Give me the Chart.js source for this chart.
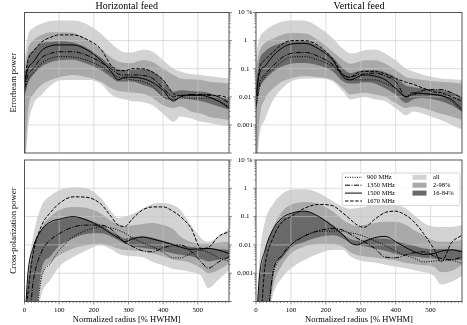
<!DOCTYPE html>
<html>
<head>
<meta charset="utf-8">
<script src="https://cdn.jsdelivr.net/npm/chart.js@4.4.1/dist/chart.umd.min.js"></script>
<style>
  body { margin: 0; background: #fff; }
  #wrap { position: relative; width: 467px; height: 325px; }
  #wrap canvas { position: absolute; left: 0; top: 0; }
</style>
</head>
<body>
<div id="wrap">
  <canvas id="ebH" width="467" height="325"></canvas>
  <canvas id="ebV" width="467" height="325"></canvas>
  <canvas id="xpH" width="467" height="325"></canvas>
  <canvas id="xpV" width="467" height="325"></canvas>
</div>
<script>
// sample radii [% HWHM], shared by every curve below
const radius = [0, 10, 25, 50, 75, 100, 140, 180, 220, 250, 270, 290, 310, 340, 370, 400, 430, 450, 480, 510, 530, 560, 590];

const yTicks = [0.0001, 0.001, 0.01, 0.1, 1, 10];
const yTickLabels = ['', '0.001', '0.01', '0.1', '1', '10 %'];
const xTicks = [0, 100, 200, 300, 400, 500];

const freqNames = ['900 MHz', '1350 MHz', '1500 MHz', '1670 MHz'];
const bandNames = ['all', '2-98%', '16-84%'];

// errorbeam power, horizontal feed
const ebH_900  = [0.015, 0.04, 0.07, 0.16, 0.23, 0.27, 0.26, 0.2, 0.12, 0.07, 0.05, 0.045, 0.04, 0.035, 0.024, 0.01, 0.008, 0.009, 0.009, 0.009, 0.009, 0.007, 0.0045];
const ebH_1350 = [0.02, 0.06, 0.1, 0.25, 0.35, 0.4, 0.4, 0.3, 0.17, 0.1, 0.065, 0.06, 0.06, 0.058, 0.045, 0.02, 0.01, 0.011, 0.012, 0.012, 0.012, 0.01, 0.006];
const ebH_1500 = [0.03, 0.1, 0.17, 0.45, 0.65, 0.7, 0.7, 0.47, 0.2, 0.08, 0.04, 0.05, 0.05, 0.045, 0.032, 0.017, 0.007, 0.01, 0.011, 0.011, 0.01, 0.007, 0.004];
const ebH_1670 = [0.03, 0.2, 0.4, 0.9, 1.3, 1.6, 1.6, 1.1, 0.5, 0.13, 0.085, 0.085, 0.1, 0.1, 0.075, 0.04, 0.013, 0.011, 0.012, 0.012, 0.011, 0.011, 0.009];
const ebH_all_lo   = [0.00001, 0.0007, 0.005, 0.012, 0.025, 0.038, 0.04, 0.04, 0.03, 0.012, 0.009, 0.008, 0.007, 0.0065, 0.005, 0.0025, 0.0013, 0.002, 0.0017, 0.0013, 0.0012, 0.001, 0.0009];
const ebH_all_hi   = [0.2, 1.5, 2.8, 4, 5, 5.2, 5.2, 3.8, 1.8, 0.8, 0.5, 0.38, 0.38, 0.47, 0.4, 0.2, 0.1, 0.08, 0.065, 0.06, 0.055, 0.05, 0.045];
const ebH_2_98_lo  = [0.00001, 0.003, 0.012, 0.027, 0.04, 0.05, 0.06, 0.05, 0.035, 0.02, 0.016, 0.015, 0.014, 0.013, 0.009, 0.005, 0.004, 0.0045, 0.003, 0.0025, 0.002, 0.0017, 0.0015];
const ebH_2_98_hi  = [0.1, 0.5, 1, 1.6, 2, 2, 1.9, 1.1, 0.5, 0.25, 0.18, 0.16, 0.16, 0.2, 0.17, 0.1, 0.06, 0.045, 0.042, 0.04, 0.035, 0.032, 0.03];
const ebH_16_84_lo = [0.01, 0.03, 0.06, 0.12, 0.17, 0.2, 0.21, 0.15, 0.09, 0.05, 0.035, 0.035, 0.035, 0.027, 0.02, 0.01, 0.0075, 0.009, 0.008, 0.007, 0.006, 0.0045, 0.0035];
const ebH_16_84_hi = [0.05, 0.25, 0.45, 0.8, 0.9, 0.95, 0.85, 0.55, 0.25, 0.13, 0.1, 0.09, 0.09, 0.1, 0.08, 0.04, 0.015, 0.017, 0.016, 0.015, 0.014, 0.01, 0.008];

// errorbeam power, vertical feed
const ebV_900  = [0.004, 0.02, 0.05, 0.1, 0.18, 0.26, 0.27, 0.2, 0.12, 0.06, 0.04, 0.04, 0.04, 0.04, 0.03, 0.02, 0.01, 0.012, 0.013, 0.012, 0.011, 0.007, 0.003];
const ebV_1350 = [0.005, 0.03, 0.06, 0.13, 0.25, 0.35, 0.38, 0.27, 0.14, 0.06, 0.05, 0.06, 0.065, 0.07, 0.055, 0.035, 0.01, 0.012, 0.017, 0.018, 0.018, 0.014, 0.009];
const ebV_1500 = [0.01, 0.07, 0.12, 0.3, 0.55, 0.75, 0.8, 0.5, 0.2, 0.05, 0.04, 0.05, 0.06, 0.055, 0.04, 0.02, 0.01, 0.014, 0.013, 0.012, 0.011, 0.008, 0.0035];
const ebV_1670 = [0.01, 0.1, 0.2, 0.4, 0.75, 1, 1, 0.65, 0.22, 0.06, 0.05, 0.07, 0.08, 0.08, 0.065, 0.045, 0.033, 0.028, 0.02, 0.015, 0.014, 0.01, 0.007];
const ebV_all_lo   = [0.00001, 0.0004, 0.0015, 0.008, 0.02, 0.035, 0.045, 0.045, 0.035, 0.015, 0.008, 0.009, 0.01, 0.008, 0.007, 0.004, 0.0022, 0.003, 0.0025, 0.0018, 0.0015, 0.001, 0.0007];
const ebV_all_hi   = [0.3, 1.2, 2.2, 3.6, 4.8, 5.2, 5.1, 3, 1.2, 0.5, 0.35, 0.38, 0.45, 0.48, 0.35, 0.2, 0.1, 0.08, 0.06, 0.05, 0.045, 0.042, 0.04];
const ebV_2_98_lo  = [0.00001, 0.0015, 0.008, 0.02, 0.035, 0.045, 0.055, 0.05, 0.04, 0.02, 0.012, 0.013, 0.014, 0.012, 0.01, 0.006, 0.004, 0.0045, 0.004, 0.003, 0.0025, 0.002, 0.0015];
const ebV_2_98_hi  = [0.1, 0.4, 0.8, 1.2, 1.6, 1.85, 1.8, 1, 0.4, 0.2, 0.15, 0.17, 0.2, 0.2, 0.15, 0.09, 0.05, 0.045, 0.04, 0.036, 0.034, 0.032, 0.03];
const ebV_16_84_lo = [0.003, 0.02, 0.04, 0.08, 0.12, 0.15, 0.16, 0.13, 0.08, 0.035, 0.03, 0.03, 0.033, 0.03, 0.02, 0.012, 0.006, 0.008, 0.009, 0.008, 0.007, 0.005, 0.003];
const ebV_16_84_hi = [0.03, 0.2, 0.4, 0.65, 0.8, 0.95, 0.95, 0.6, 0.25, 0.1, 0.07, 0.08, 0.09, 0.09, 0.075, 0.05, 0.025, 0.022, 0.02, 0.018, 0.017, 0.014, 0.01];

// cross-polarization power, horizontal feed
const xpH_900  = [0.00001, 0.00001, 0.00001, 0.0008, 0.0022, 0.0065, 0.019, 0.033, 0.043, 0.04, 0.033, 0.026, 0.018, 0.012, 0.0085, 0.0055, 0.0035, 0.0035, 0.005, 0.0065, 0.0055, 0.0035, 0.0026];
const xpH_1350 = [0.00001, 0.00001, 0.0005, 0.006, 0.015, 0.025, 0.043, 0.05, 0.05, 0.036, 0.02, 0.012, 0.009, 0.0062, 0.0057, 0.008, 0.0095, 0.01, 0.006, 0.0025, 0.0015, 0.0025, 0.0037];
const xpH_1500 = [0.00001, 0.001, 0.008, 0.035, 0.065, 0.08, 0.1, 0.075, 0.043, 0.025, 0.018, 0.013, 0.016, 0.019, 0.016, 0.013, 0.01, 0.0083, 0.007, 0.0072, 0.0075, 0.0065, 0.005];
const xpH_1670 = [0.00001, 0.0002, 0.005, 0.05, 0.14, 0.29, 0.5, 0.48, 0.28, 0.1, 0.05, 0.045, 0.08, 0.17, 0.22, 0.22, 0.15, 0.1, 0.04, 0.0075, 0.008, 0.02, 0.029];
const xpH_all_lo   = [0.00001, 0.00001, 0.00001, 0.0002, 0.0006, 0.0017, 0.0037, 0.0065, 0.01, 0.007, 0.005, 0.0042, 0.004, 0.0037, 0.0025, 0.0019, 0.0014, 0.0013, 0.0011, 0.0008, 0.0003, 0.0006, 0.0013];
const xpH_all_hi   = [0.00001, 0.001, 0.02, 0.25, 0.55, 0.85, 1.1, 1, 0.45, 0.15, 0.09, 0.1, 0.12, 0.19, 0.28, 0.3, 0.25, 0.17, 0.05, 0.017, 0.013, 0.02, 0.038];
const xpH_2_98_lo  = [0.00001, 0.00001, 0.00001, 0.0008, 0.0025, 0.0043, 0.0075, 0.01, 0.011, 0.009, 0.0075, 0.0066, 0.0063, 0.006, 0.005, 0.004, 0.003, 0.0028, 0.0023, 0.0015, 0.001, 0.0013, 0.0022];
const xpH_2_98_hi  = [0.00001, 0.0002, 0.005, 0.04, 0.1, 0.17, 0.22, 0.2, 0.13, 0.07, 0.055, 0.045, 0.048, 0.055, 0.06, 0.05, 0.035, 0.02, 0.013, 0.011, 0.011, 0.012, 0.013];
const xpH_16_84_lo = [0.00001, 0.00001, 0.00001, 0.0015, 0.004, 0.009, 0.017, 0.025, 0.026, 0.02, 0.015, 0.011, 0.009, 0.008, 0.007, 0.006, 0.005, 0.0045, 0.004, 0.0032, 0.0026, 0.003, 0.0034];
const xpH_16_84_hi = [0.00001, 0.0005, 0.008, 0.035, 0.06, 0.075, 0.095, 0.08, 0.05, 0.03, 0.022, 0.017, 0.019, 0.02, 0.018, 0.014, 0.011, 0.01, 0.0085, 0.008, 0.0078, 0.0072, 0.0066];

// cross-polarization power, vertical feed
const xpV_900  = [0.00001, 0.00001, 0.00001, 0.001, 0.004, 0.01, 0.021, 0.03, 0.031, 0.03, 0.027, 0.024, 0.02, 0.014, 0.0095, 0.006, 0.0042, 0.0035, 0.0025, 0.0027, 0.0028, 0.0028, 0.0022];
const xpV_1350 = [0.00001, 0.00001, 0.00001, 0.0013, 0.0045, 0.01, 0.021, 0.032, 0.038, 0.033, 0.024, 0.017, 0.013, 0.0075, 0.0037, 0.0035, 0.0045, 0.0052, 0.0057, 0.004, 0.0033, 0.003, 0.0037];
const xpV_1500 = [0.00001, 0.0008, 0.006, 0.038, 0.09, 0.13, 0.155, 0.1, 0.045, 0.022, 0.012, 0.01, 0.013, 0.018, 0.02, 0.013, 0.008, 0.006, 0.0046, 0.005, 0.006, 0.0067, 0.0057];
const xpV_1670 = [0.00001, 0.00001, 0.0015, 0.019, 0.065, 0.1, 0.2, 0.27, 0.24, 0.13, 0.08, 0.05, 0.042, 0.08, 0.14, 0.155, 0.11, 0.07, 0.025, 0.007, 0.0025, 0.012, 0.022];
const xpV_all_lo   = [0.00001, 0.00001, 0.00001, 0.0002, 0.0007, 0.0015, 0.003, 0.005, 0.0066, 0.0066, 0.004, 0.003, 0.0026, 0.0024, 0.002, 0.0017, 0.0015, 0.0013, 0.0011, 0.0008, 0.0004, 0.0005, 0.0008];
const xpV_all_hi   = [0.00001, 0.003, 0.06, 0.29, 0.63, 0.9, 0.92, 0.68, 0.35, 0.22, 0.19, 0.2, 0.22, 0.28, 0.29, 0.27, 0.19, 0.12, 0.06, 0.044, 0.043, 0.043, 0.05];
const xpV_2_98_lo  = [0.00001, 0.00001, 0.00001, 0.0004, 0.002, 0.005, 0.009, 0.011, 0.011, 0.0085, 0.0055, 0.0043, 0.004, 0.0036, 0.0032, 0.0028, 0.0023, 0.0021, 0.0019, 0.0017, 0.0011, 0.0012, 0.002];
const xpV_2_98_hi  = [0.00001, 0.0003, 0.006, 0.044, 0.15, 0.26, 0.33, 0.28, 0.15, 0.075, 0.055, 0.046, 0.05, 0.06, 0.066, 0.066, 0.05, 0.035, 0.022, 0.014, 0.013, 0.013, 0.015];
const xpV_16_84_lo = [0.00001, 0.00001, 0.00001, 0.0013, 0.0035, 0.008, 0.013, 0.019, 0.022, 0.017, 0.012, 0.01, 0.009, 0.0075, 0.0062, 0.0048, 0.0042, 0.004, 0.0035, 0.0033, 0.003, 0.0029, 0.003];
const xpV_16_84_hi = [0.00001, 0.0005, 0.005, 0.035, 0.08, 0.12, 0.15, 0.1, 0.05, 0.024, 0.016, 0.014, 0.015, 0.017, 0.017, 0.013, 0.011, 0.0095, 0.0075, 0.0072, 0.0072, 0.007, 0.0066];

const FONT = '"Liberation Serif", "Times New Roman", serif';
Chart.defaults.font.family = FONT;
Chart.defaults.color = '#000';

const bandColors = ['#d3d3d3', '#a9a9a9', '#696969'];
const freqDash = [[1, 1.4], [5, 1.5, 1, 1.5], [], [3.5, 1.6]];

function pts(vals) {
  return vals.map((v, i) => ({ x: radius[i], y: v }));
}

function buildDatasets(bands, lines) {
  const ds = [];
  bands.forEach((b, k) => {
    ds.push({ data: pts(b[0]), borderColor: 'rgba(0,0,0,0)', borderWidth: 0, pointRadius: 0,
              fill: false, order: 3 - k, cubicInterpolationMode: 'monotone' });
    ds.push({ label: bandNames[k], data: pts(b[1]), borderColor: 'rgba(0,0,0,0)', borderWidth: 0,
              backgroundColor: bandColors[k], pointRadius: 0, fill: '-1', order: 3 - k,
              cubicInterpolationMode: 'monotone', band: true });
  });
  lines.forEach((l, k) => {
    ds.push({ label: freqNames[k], data: pts(l), borderColor: '#000', borderWidth: 1,
              borderDash: freqDash[k], pointRadius: 0, fill: false, order: 0,
              cubicInterpolationMode: 'monotone', curve: true });
  });
  return ds;
}

// grid under the curves but over the bands, plus frame and small ticks
const framePlugin = {
  id: 'frame',
  beforeDatasetsDraw(chart) { chart.$gridDone = false; },
  beforeDatasetDraw(chart, args) {
    if (chart.$gridDone || !chart.data.datasets[args.index].curve) return;
    chart.$gridDone = true;
    const ctx = chart.ctx, a = chart.chartArea;
    const sx = chart.scales.x, sy = chart.scales.y;
    ctx.save();
    ctx.strokeStyle = 'rgba(200,200,200,0.75)';
    ctx.lineWidth = 0.8;
    ctx.beginPath();
    xTicks.slice(1).forEach(v => {
      const p = sx.getPixelForValue(v);
      ctx.moveTo(p, a.top); ctx.lineTo(p, a.bottom);
    });
    yTicks.slice(1, -1).forEach(v => {
      const p = sy.getPixelForValue(v);
      ctx.moveTo(a.left, p); ctx.lineTo(a.right, p);
    });
    ctx.stroke();
    ctx.restore();
  },
  afterDraw(chart, args, opts) {
    const ctx = chart.ctx, a = chart.chartArea;
    const sx = chart.scales.x, sy = chart.scales.y;
    ctx.save();
    ctx.strokeStyle = '#444';
    ctx.lineWidth = 0.9;
    ctx.strokeRect(a.left, a.top, a.width, a.height);
    ctx.lineWidth = 0.6;
    ctx.beginPath();
    const edge = opts.ySide === 'right' ? a.right : a.left;
    const dir = opts.ySide === 'right' ? 1 : -1;
    for (let d = -4; d <= 1; d++) {
      for (let m = 1; m <= 9; m++) {
        const v = m * Math.pow(10, d);
        if (v > 10.0001) break;
        const p = sy.getPixelForValue(v);
        const len = m === 1 ? 3 : 1.6;
        ctx.moveTo(edge, p); ctx.lineTo(edge + dir * len, p);
      }
    }
    if (opts.xMinor) {
      for (let v = 0; v <= 590; v += 10) {
        const p = sx.getPixelForValue(v);
        const len = v % 100 === 0 ? 3 : 1.6;
        ctx.moveTo(p, a.bottom); ctx.lineTo(p, a.bottom + len);
      }
    }
    ctx.stroke();
    ctx.restore();
  }
};

const legendPlugin = {
  id: 'boxLegend',
  afterDraw(chart, args, opts) {
    if (!opts.show) return;
    const ctx = chart.ctx, a = chart.chartArea;
    const ds = chart.data.datasets;
    const bx = a.left + 86, by = a.top + 13, bw = a.right - 2 - bx, bh = 32.5;
    ctx.save();
    ctx.fillStyle = 'rgba(255,255,255,0.85)';
    ctx.strokeStyle = '#cccccc';
    ctx.lineWidth = 0.8;
    ctx.beginPath();
    ctx.roundRect(bx, by, bw, bh, 2);
    ctx.fill();
    ctx.stroke();
    ctx.font = '6.5px ' + FONT;
    ctx.textBaseline = 'middle';
    ctx.fillStyle = '#000';
    const lines = ds.filter(d => d.curve);
    const bands = ds.filter(d => d.band);
    lines.forEach((d, i) => {
      const y = by + 4.3 + i * 7.9;
      ctx.strokeStyle = d.borderColor;
      ctx.lineWidth = 1;
      ctx.setLineDash(d.borderDash);
      ctx.beginPath(); ctx.moveTo(bx + 3, y); ctx.lineTo(bx + 20, y); ctx.stroke();
      ctx.setLineDash([]);
      ctx.fillText(d.label, bx + 25, y + 0.3);
    });
    bands.forEach((d, i) => {
      const y = by + 4.3 + i * 7.9;
      ctx.fillStyle = d.backgroundColor;
      ctx.fillRect(bx + 70.5, y - 2.5, 14, 5);
      ctx.fillStyle = '#000';
      ctx.fillText(d.label, bx + 91, y + 0.3);
    });
    ctx.restore();
  }
};

function makePanel(id, opt) {
  const left = opt.col === 0;
  const top = opt.row === 0;
  const yAxisW = left ? 24.5 : 27;
  new Chart(document.getElementById(id), {
    type: 'line',
    data: { datasets: buildDatasets(opt.bands, opt.lines) },
    plugins: [framePlugin, legendPlugin],
    options: {
      responsive: false,
      animation: false,
      devicePixelRatio: 1,
      layout: {
        autoPadding: false,
        padding: {
          left: left ? 0 : 229,
          right: left ? 238 : 5,
          top: top ? 0 : 160,
          bottom: top ? 172 : 0.5
        }
      },
      scales: {
        x: {
          type: 'linear', min: 0, max: 590,
          display: !top,
          afterBuildTicks: s => { s.ticks = xTicks.map(v => ({ value: v })); },
          afterFit: s => { s.height = top ? 0 : 23; },
          grid: { display: false, drawTicks: false },
          border: { display: false },
          ticks: { padding: 4, font: { size: 7 }, maxRotation: 0 },
          title: { display: !top, text: 'Normalized radius [% HWHM]', font: { size: 8.5 }, padding: 0 }
        },
        y: {
          type: 'logarithmic', min: 0.0001, max: 10,
          position: 'left',
          afterBuildTicks: s => { s.ticks = yTicks.map(v => ({ value: v })); },
          afterFit: s => { s.width = yAxisW; },
          grid: { display: false, drawTicks: false },
          border: { display: false },
          ticks: {
            display: !left,
            crossAlign: 'center',
            padding: 3,
            font: { size: 7 },
            callback: (v, i) => yTickLabels[i]
          },
          title: { display: left, text: opt.yTitle, font: { size: 8.5 }, padding: { top: 8.4, bottom: 0 } }
        }
      },
      plugins: {
        legend: { display: false },
        tooltip: { enabled: false },
        title: {
          display: top, text: opt.title, fullSize: false,
          font: { size: 10, weight: 'normal', lineHeight: 1.25 }, padding: 0, color: '#000'
        },
        frame: { ySide: left ? 'right' : 'left', xMinor: !top },
        boxLegend: { show: !!opt.legend }
      }
    }
  });
}

makePanel('ebH', {
  row: 0, col: 0, title: 'Horizontal feed', yTitle: 'Errorbeam power',
  bands: [[ebH_all_lo, ebH_all_hi], [ebH_2_98_lo, ebH_2_98_hi], [ebH_16_84_lo, ebH_16_84_hi]],
  lines: [ebH_900, ebH_1350, ebH_1500, ebH_1670]
});
makePanel('ebV', {
  row: 0, col: 1, title: 'Vertical feed',
  bands: [[ebV_all_lo, ebV_all_hi], [ebV_2_98_lo, ebV_2_98_hi], [ebV_16_84_lo, ebV_16_84_hi]],
  lines: [ebV_900, ebV_1350, ebV_1500, ebV_1670]
});
makePanel('xpH', {
  row: 1, col: 0, yTitle: 'Cross-polarization power',
  bands: [[xpH_all_lo, xpH_all_hi], [xpH_2_98_lo, xpH_2_98_hi], [xpH_16_84_lo, xpH_16_84_hi]],
  lines: [xpH_900, xpH_1350, xpH_1500, xpH_1670]
});
makePanel('xpV', {
  row: 1, col: 1, legend: true,
  bands: [[xpV_all_lo, xpV_all_hi], [xpV_2_98_lo, xpV_2_98_hi], [xpV_16_84_lo, xpV_16_84_hi]],
  lines: [xpV_900, xpV_1350, xpV_1500, xpV_1670]
});
</script>
</body>
</html>
